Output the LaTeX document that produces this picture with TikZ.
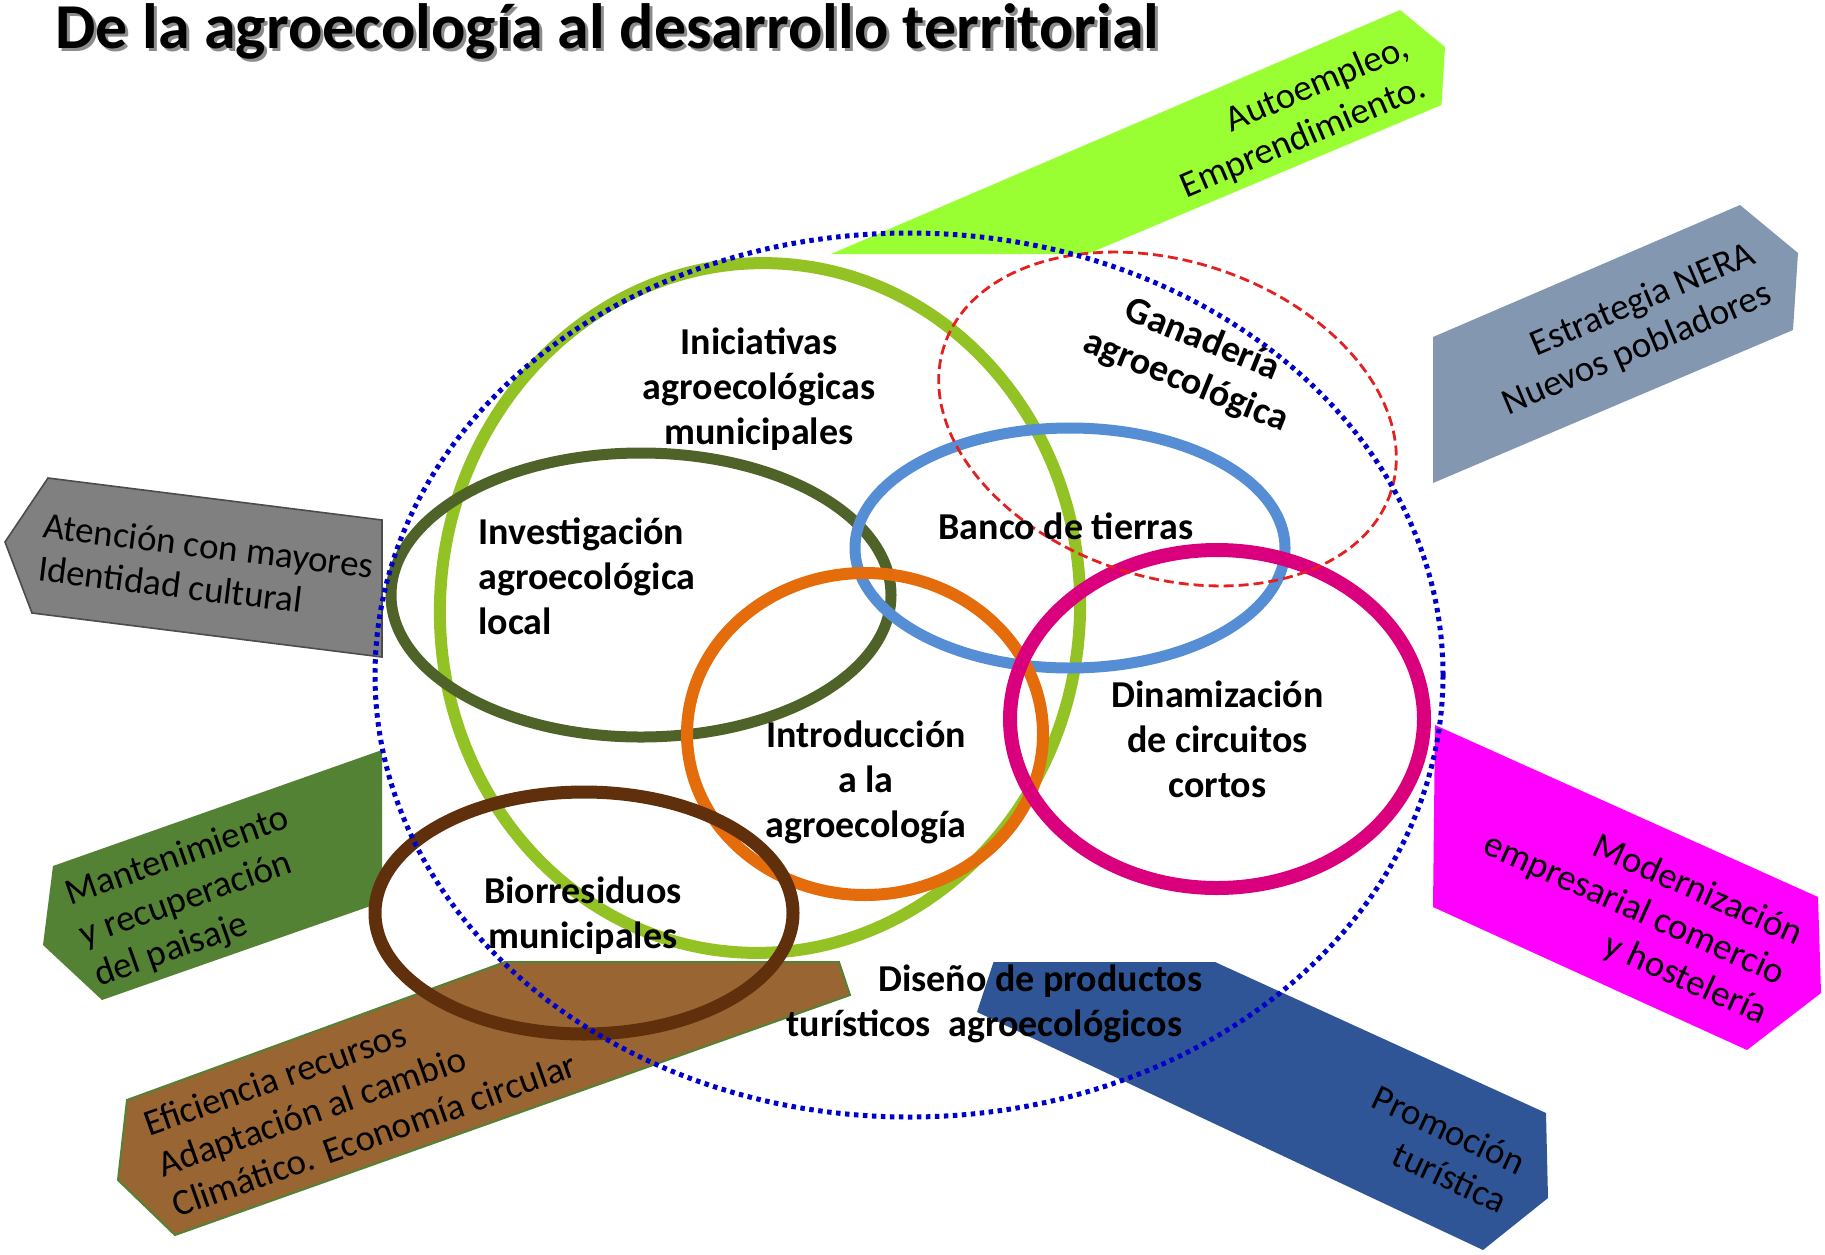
\documentclass[tikz,border=0pt]{standalone}
\usepackage{fontspec}
\setmainfont{Carlito}
\definecolor{limebox}{RGB}{153,255,51}
\definecolor{neragray}{RGB}{132,151,176}
\definecolor{atgray}{RGB}{128,128,128}
\definecolor{mantgreen}{RGB}{84,130,53}
\definecolor{brownbox}{RGB}{153,102,51}
\definecolor{promoblue}{RGB}{47,85,151}
\definecolor{magbox}{RGB}{255,0,255}
\definecolor{ellgreen}{RGB}{146,194,36}
\definecolor{ellolive}{RGB}{79,98,40}
\definecolor{ellblue}{RGB}{85,142,213}
\definecolor{ellorange}{RGB}{228,108,10}
\definecolor{ellmag}{RGB}{218,0,125}
\definecolor{ellbrown}{RGB}{96,48,12}
\definecolor{ellred}{RGB}{228,32,32}
\definecolor{dotblue}{RGB}{0,0,204}
\tikzset{
  sidelabel/.style={font=\fontsize{18.5}{21.5}\selectfont, inner sep=0pt},
  ctrlabel/.style={font=\bfseries\fontsize{19}{22.5}\selectfont, align=center, inner sep=0pt},
  ring/.style={line width=#1},
}
\begin{document}
\begin{tikzpicture}[x=0.5pt,y=-0.5pt]
\useasboundingbox (0,0) rectangle (1825,1254);
% ---------- arrow boxes ----------
\fill[limebox] (831,254) -- (1400,10) -- (1445,47) -- (1441.5,105) -- (1087.5,254) -- cycle;
\fill[neragray] (1433,337) -- (1740,205) -- (1798,253) -- (1793,330) -- (1433,483) -- cycle;
\filldraw[fill=atgray, draw=black!70, line width=0.8pt] (48,478) -- (5,542) -- (32,613) -- (382,657) -- (382,520) -- cycle;
\fill[mantgreen] (382,750) -- (382,902) -- (102,1000) -- (43,945) -- (53,866) -- cycle;
\filldraw[fill=brownbox, draw=mantgreen, line width=1pt] (127,1100) -- (505,962) -- (839,962) -- (850,995) -- (175,1235) -- (118,1180) -- cycle;
\fill[promoblue] (993.5,962) -- (1215,962) -- (1546,1113) -- (1548,1198) -- (1483,1250) -- (977,1012) -- cycle;
\fill[magbox] (1435,725) -- (1818,897) -- (1821,993) -- (1747,1050) -- (1433,907) -- cycle;
% ---------- ellipses ----------
\draw[ellgreen, ring=6pt, rotate around={-4:(760,608)}] (760,608) ellipse [x radius=320, y radius=345];
\draw[ellolive, ring=5.5pt] (641,595) ellipse [x radius=250, y radius=142];
\draw[ellblue, ring=5.5pt] (1070,548) ellipse [x radius=215, y radius=120];
\draw[ellorange, ring=6pt] (865,734) ellipse [x radius=178, y radius=161];
\draw[ellmag, ring=7pt] (1217,719) ellipse [x radius=207, y radius=169];
\draw[ellbrown, ring=6.5pt] (584,913) ellipse [x radius=209, y radius=121];
\draw[ellred, line width=1.4pt, dash pattern=on 5pt off 2.5pt, rotate around={-18:(1167.5,419)}] (1167.5,419) ellipse [x radius=235, y radius=158];
\draw[dotblue, line width=2.5pt, dash pattern=on 2.25pt off 2.25pt] (909,675) ellipse [x radius=534, y radius=442];
% ---------- title ----------
\node[font=\bfseries\fontsize{32}{32}\selectfont, text=black!45, anchor=base west, inner sep=0pt] (titleshadow) at (58,51) {De la agroecología al desarrollo territorial};
\node[font=\bfseries\fontsize{32}{32}\selectfont, anchor=base west, inner sep=0pt] (title) at (55,48) {De la agroecología al desarrollo territorial};
% ---------- box labels ----------
\node[sidelabel, align=right, rotate=23] (auto) at (1295,118) {Autoempleo,\\Emprendimiento.};
\node[sidelabel, align=right, rotate=23] (nera) at (1629,330) {Estrategia NERA\\Nuevos pobladores};
\node[sidelabel, align=left, rotate=-7] (aten) at (206,567) {Atención con mayores\\Identidad cultural};
\node[sidelabel, align=left, rotate=19.5] (mant) at (192,898) {Mantenimiento\\y recuperación\\del paisaje};
\node[sidelabel, align=left, rotate=19.5] (efic) at (360,1094) {Eficiencia recursos\\Adaptación al cambio\\Climático. Economía circular};
\node[sidelabel, align=right, rotate=-25] (promo) at (1440,1149) {Promoción\\turística};
\node[sidelabel, align=right, rotate=-24] (moder) at (1634,910) {Modernización\\empresarial comercio\\y hostelería};
% ---------- circle labels ----------
\node[ctrlabel] (inic) at (759,389) {Iniciativas\\agroecológicas\\municipales};
\node[ctrlabel, align=left, anchor=west] (inve) at (478,576) {Investigación\\agroecológica\\local};
\node[ctrlabel, anchor=base] (banco) at (1066,539) {Banco de tierras};
\node[ctrlabel, rotate=-22] (gana) at (1194,361) {Ganadería\\agroecológica};
\node[ctrlabel] (intro) at (866,782) {Introducción\\a la\\agroecología};
\node[ctrlabel] (dina) at (1217.5,739) {Dinamización\\de circuitos\\cortos};
\node[ctrlabel] (bior) at (583,916) {Biorresiduos\\municipales};
\node[ctrlabel, anchor=base west] (dis1) at (878,991) {Diseño de productos};
\node[ctrlabel, anchor=base west] (dis2) at (786,1036) {turísticos\ \ agroecológicos};
\end{tikzpicture}
\end{document}
